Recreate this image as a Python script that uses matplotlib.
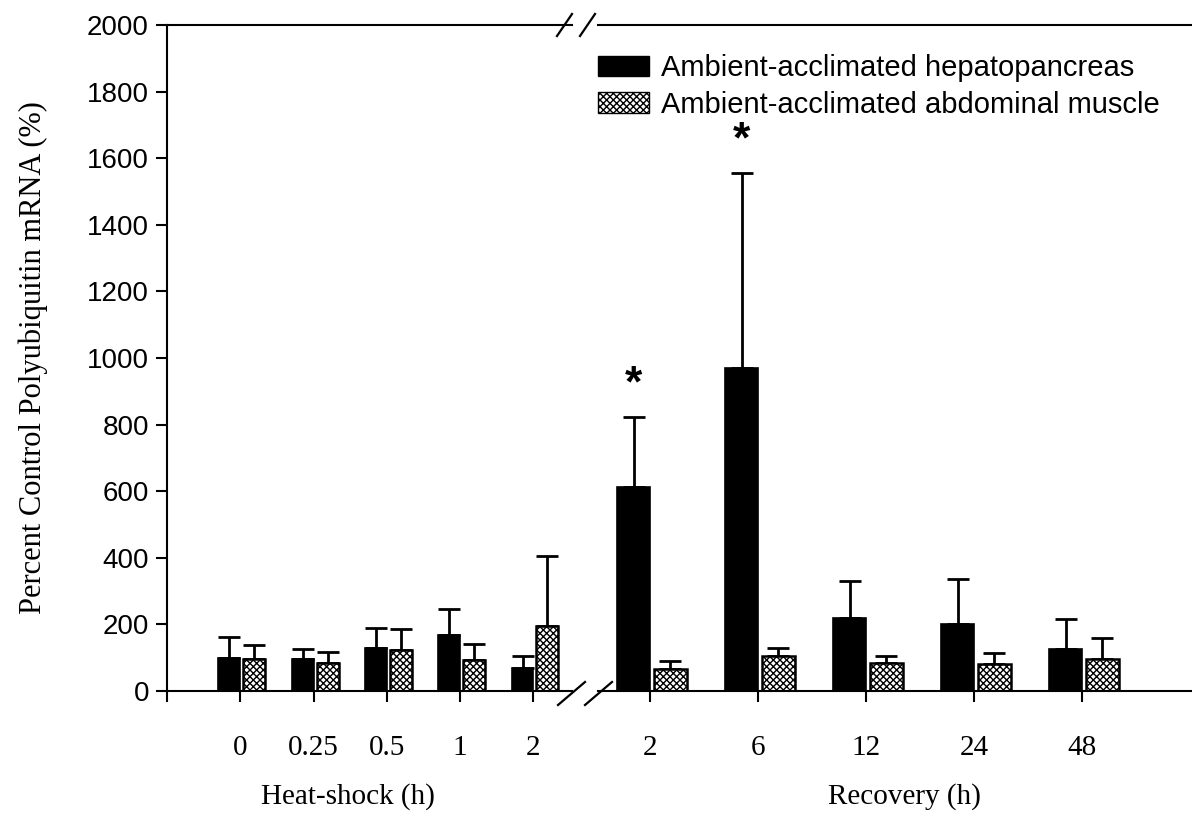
import numpy as np
import matplotlib
matplotlib.use('Agg')
import matplotlib.pyplot as plt
from matplotlib.patches import Patch
from matplotlib.lines import Line2D

# Heat-shock (h) and recovery (h) time points
hs_labels = ['0', '0.25', '0.5', '1', '2']
rec_labels = ['2', '6', '12', '24', '48']

# percent of control, mean and upper error (SE)
hs_hep = [100, 96, 129, 168, 69]
hs_hep_err = [62, 30, 60, 78, 36]
hs_mus = [97, 84, 123, 93, 195]
hs_mus_err = [41, 33, 63, 48, 210]

rec_hep = [612, 970, 220, 200, 125]
rec_hep_err = [210, 585, 110, 135, 90]
rec_mus = [65, 105, 85, 80, 95]
rec_mus_err = [25, 25, 20, 35, 65]

# significant differences (index into recovery)
stars = [0, 1]

W, H = 1192, 818
fig = plt.figure(figsize=(W / 100, H / 100), dpi=100)
plt.rcParams['hatch.linewidth'] = 1.0

serif = 'Liberation Serif'
sans = 'Liberation Sans'

y0, y1 = 691, 25
ax_l = fig.add_axes([167 / W, (H - y0) / H, (572 - 167) / W, (y0 - y1) / H])
ax_r = fig.add_axes([598 / W, (H - y0) / H, (W - 598) / W, (y0 - y1) / H])

w = 0.3
pat = 'xxxxx'
def draw(ax, hep, hep_err, mus, mus_err):
    x = np.arange(1, len(hep) + 1)
    ax.bar(x - 0.15, hep, w, color='black', edgecolor='black', lw=1.2, zorder=2)
    ax.bar(x + 0.19, mus, w, color='white', edgecolor='black', lw=1.8,
           hatch=pat, zorder=2)
    ax.errorbar(x - 0.15, hep, yerr=[np.zeros(len(hep)), hep_err], fmt='none',
                ecolor='black', elinewidth=2, capsize=8, capthick=2, zorder=1)
    ax.errorbar(x + 0.19, mus, yerr=[np.zeros(len(mus)), mus_err], fmt='none',
                ecolor='black', elinewidth=2, capsize=8, capthick=2, zorder=1)
    return x

xl = draw(ax_l, hs_hep, hs_hep_err, hs_mus, hs_mus_err)
xr = draw(ax_r, rec_hep, rec_hep_err, rec_mus, rec_mus_err)

ax_l.set_xlim(0, (572 - 167) / 73.3)
ax_r.set_xlim(0.52, 0.52 + (W - 598) / 108)
for ax in (ax_l, ax_r):
    ax.set_ylim(0, 2000)
    ax.spines['right'].set_visible(False)
    for s in ('top', 'bottom', 'left'):
        ax.spines[s].set_linewidth(1.5)
    ax.tick_params(axis='x', direction='out', length=8, width=1.5, pad=24)

ax_l.set_xticks(np.concatenate([[0], xl]))
ax_l.set_xticklabels([''] + hs_labels, fontfamily=serif, fontsize=21)
ax_r.set_xticks(xr)
ax_r.set_xticklabels(rec_labels, fontfamily=serif, fontsize=21)

ax_l.set_yticks(np.arange(0, 2001, 200))
ax_l.set_yticklabels([str(v) for v in range(0, 2001, 200)], fontfamily=sans,
                     fontsize=20)
ax_l.tick_params(axis='y', direction='out', length=8, width=1.5, pad=5)
ax_r.spines['left'].set_visible(False)
ax_r.set_yticks([])

ax_l.set_ylabel('Percent Control Polyubiquitin mRNA (%)', fontfamily=serif,
                fontsize=22, labelpad=28)

ax_l.text((348 - 167) / 73.3, -0.159, 'Heat-shock (h)', transform=ax_l.get_xaxis_transform(),
          ha='center', va='center', fontfamily=serif, fontsize=21)
ax_r.text(0.52 + (904 - 598) / 108, -0.159, 'Recovery (h)', transform=ax_r.get_xaxis_transform(),
          ha='center', va='center', fontfamily=serif, fontsize=21)

for i in stars:
    ax_r.text(xr[i] - 0.15, rec_hep[i] + rec_hep_err[i] + 35, '*', ha='center',
              va='bottom', fontfamily=sans, fontsize=32, fontweight='bold')

# axis break marks
def px(x, y):
    return x / W, 1 - y / H
for xa in (558, 585):
    fig.add_artist(Line2D(*zip(px(xa, 705), px(xa + 27, 682)), color='black', lw=1.6))
for xa in (557, 580):
    fig.add_artist(Line2D(*zip(px(xa, 36), px(xa + 15, 14)), color='black', lw=1.6))

handles = [Patch(facecolor='black', edgecolor='black'),
           Patch(facecolor='white', edgecolor='black', hatch=pat)]
ax_r.legend(handles, ['Ambient-acclimated hepatopancreas',
                      'Ambient-acclimated abdominal muscle'],
            loc='upper left', bbox_to_anchor=(598 / W, 1 - 54 / H),
            bbox_transform=fig.transFigure, frameon=False, borderpad=0,
            borderaxespad=0, handlelength=1.75, handleheight=0.7,
            handletextpad=0.4, labelspacing=0.3,
            prop={'family': sans, 'size': 21})

fig.savefig('out.png', dpi=100)
